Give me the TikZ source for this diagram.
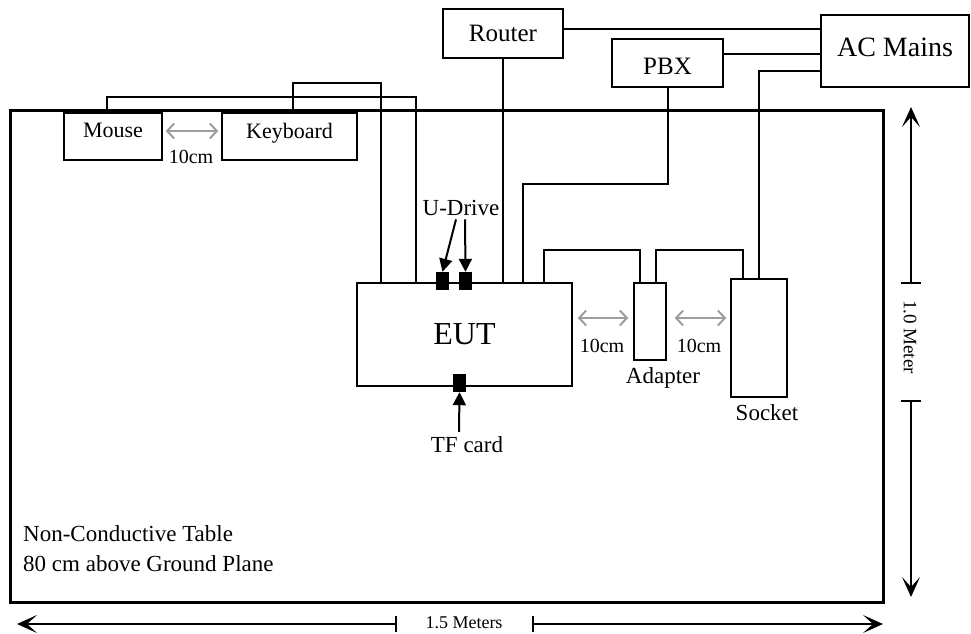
\documentclass[tikz,border=0pt]{standalone}
\usepackage{fontspec}
\setmainfont{Liberation Serif}
\usetikzlibrary{arrows.meta,calc}
\begin{document}
\begin{tikzpicture}[x=1pt,y=-1pt,
  box/.style={draw,line width=1.5pt,inner sep=0pt,align=center},
  cable/.style={line width=2pt},
  blk/.style={fill=black,draw=none,inner sep=0pt,minimum width=13pt,minimum height=18pt},
  gap/.style={draw=black!38,line width=2pt,{Straight Barb[length=7pt,width=15pt]}-{Straight Barb[length=7pt,width=15pt]}},
  lbl/.style={inner sep=0pt,font=\fontsize{23}{27}\selectfont},
  small/.style={inner sep=0pt,font=\fontsize{20}{24}\selectfont},
  dim/.style={line width=1.5pt},
  dimtip/.style={dim,-{Stealth[length=20pt,width=18pt,inset=10pt]}},
  ptr/.style={line width=2pt,-{Triangle[length=13pt,width=13pt]}}
]
\useasboundingbox (0,0) rectangle (971,633);

% table
\node[draw,line width=3pt,inner sep=0pt,minimum width=873pt,minimum height=492pt] (table) at (446.5,356) {};
\node[lbl,anchor=base west] (tbl1) at (23,541) {Non-Conductive Table};
\node[lbl,anchor=base west] (tbl2) at (23,571) {80 cm above Ground Plane};

% boxes
\node[box,minimum width=98pt,minimum height=47pt,font=\fontsize{22}{26}\selectfont,text depth=12pt] (mouse) at (113,136.5) {Mouse};
\node[box,minimum width=135pt,minimum height=47pt,font=\fontsize{22}{26}\selectfont,text depth=12pt] (keyboard) at (289.5,136.5) {Keyboard};
\node[box,minimum width=120pt,minimum height=49pt,font=\fontsize{25}{29}\selectfont] (router) at (503,33.5) {Router};
\node[box,minimum width=111pt,minimum height=48pt,font=\fontsize{25}{29}\selectfont,text height=24pt] (pbx) at (667.5,63) {PBX};
\node[box,minimum width=148pt,minimum height=72pt,font=\fontsize{28}{32}\selectfont,text depth=8pt] (acmains) at (895,51) {AC Mains};
\node[box,minimum width=215pt,minimum height=103pt,font=\fontsize{32}{36}\selectfont] (eut) at (464.5,334.5) {EUT};
\node[box,minimum width=32pt,minimum height=77pt] (adapter) at (650,321.5) {};
\node[box,minimum width=56pt,minimum height=118pt] (socket) at (759,338) {};

% labels
\node[lbl,anchor=base] (adlbl) at (663,383) {Adapter};
\node[lbl,anchor=base] (solbl) at (767,420) {Socket};
\node[lbl,anchor=base] (udlbl) at (461,215) {U-Drive};
\node[lbl,anchor=base] (tflbl) at (467,452) {TF card};
\node[small,anchor=base] (gap1) at (191,163) {10cm};
\node[small,anchor=base] (gap2) at (602,352) {10cm};
\node[small,anchor=base] (gap3) at (699,352) {10cm};

% cables
\draw[cable] (mouse.north -| 107,0) |- (416,97) -- (416,0 |- eut.north);
\draw[cable] (keyboard.north -| 293,0) |- (381,83) -- (381,0 |- eut.north);
\draw[cable] (router.south) -- (router.south |- eut.north);
\draw[cable] (pbx.south) |- (523,184) -- (523,0 |- eut.north);
\draw[cable] (eut.north -| 544,0) |- (640,250) -- (640,0 |- adapter.north);
\draw[cable] (adapter.north -| 656,0) |- (743,250) -- (743,0 |- socket.north);
\draw[cable] (acmains.west |- 0,71) -| (759,0 |- socket.north);
\draw[cable] (router.east |- 0,29) -- (acmains.west |- 0,29);
\draw[cable] (pbx.east |- 0,54) -- (acmains.west |- 0,54);

% storage blocks
\node[blk] (ud1) at (442.5,281) {};
\node[blk] (ud2) at (465.5,281) {};
\node[blk] (tf) at (459.5,383) {};
\draw[ptr] ($(udlbl.south)+(-5,4)$) -- (ud1.north);
\draw[ptr] ($(udlbl.south)+(4,4)$) -- (ud2.north);
\draw[ptr] ($(tflbl.north)+(-8,-4)$) -- (tf.south);

% 10cm spacing arrows
\draw[gap] ($(mouse.east)+(3,-5.5)$) -- ($(keyboard.west)+(-3,-5.5)$);
\draw[gap] ($(eut.east |- 0,318)+(5,0)$) -- ($(adapter.west |- 0,318)+(-5,0)$);
\draw[gap] ($(adapter.east |- 0,318)+(8,0)$) -- ($(socket.west |- 0,318)+(-4,0)$);

% dimensions
\coordinate (vt1) at (911,283);
\coordinate (vt2) at (911,401);
\coordinate (vtop) at (911,107);
\coordinate (vbot) at (911,597);
\draw[dimtip] (vt1) -- (vtop);
\draw[dimtip] (vt2) -- (vbot);
\draw[dim] ($(vt1)+(-10,0)$) -- ($(vt1)+(10,0)$);
\draw[dim] ($(vt2)+(-10,0)$) -- ($(vt2)+(10,0)$);
\node[small,font=\fontsize{19}{23}\selectfont,rotate=-90] (vlbl) at (910,337) {1.0 Meter};

\coordinate (ht1) at (396,624);
\coordinate (ht2) at (533,624);
\coordinate (hleft) at (17,624);
\coordinate (hright) at (883,624);
\draw[dimtip] (ht1) -- (hleft);
\draw[dimtip] (ht2) -- (hright);
\draw[dim] ($(ht1)+(0,-8)$) -- ($(ht1)+(0,8)$);
\draw[dim] ($(ht2)+(0,-8)$) -- ($(ht2)+(0,8)$);
\node[small,font=\fontsize{18}{22}\selectfont] (hlbl) at (464,623) {1.5 Meters};
\end{tikzpicture}
\end{document}
